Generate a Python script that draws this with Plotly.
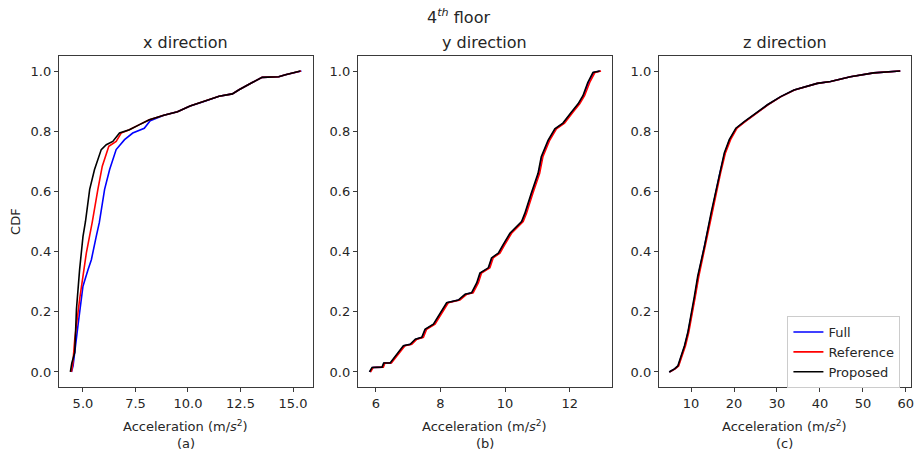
import plotly.graph_objects as go

# ---------------- data ----------------
# (a) x direction
a_prop_x = [4.40, 4.47, 4.61, 4.69, 4.84, 5.00, 5.12, 5.32, 5.55, 5.87, 6.11, 6.42, 6.74, 7.21, 7.69, 8.16, 8.85, 9.50, 10.10, 10.80, 11.48, 12.11, 12.43, 13.06, 13.53, 14.32, 14.64, 15.35]
a_prop_y = [0.0, 0.03, 0.065, 0.208, 0.34, 0.45, 0.50, 0.607, 0.673, 0.739, 0.755, 0.766, 0.794, 0.805, 0.822, 0.838, 0.853, 0.865, 0.884, 0.900, 0.916, 0.924, 0.938, 0.962, 0.979, 0.981, 0.988, 1.0]
a_ref_x = [4.45, 4.52, 4.61, 4.84, 5.16, 5.32, 5.44, 5.71, 5.92, 6.23, 6.58, 6.82, 7.21, 7.69, 8.16, 8.85, 9.50, 10.10, 10.80, 11.48, 12.11, 12.43, 13.06, 13.53, 14.32, 14.64, 15.38]
a_ref_y = [0.0, 0.03, 0.109, 0.241, 0.395, 0.45, 0.497, 0.607, 0.684, 0.750, 0.766, 0.794, 0.805, 0.822, 0.838, 0.853, 0.865, 0.884, 0.900, 0.916, 0.924, 0.938, 0.962, 0.979, 0.981, 0.988, 1.0]
a_full_x = [4.45, 4.53, 4.76, 5.00, 5.24, 5.40, 5.63, 5.78, 6.03, 6.27, 6.58, 6.98, 7.37, 7.92, 8.20, 8.85, 9.50, 10.10, 10.80, 11.48, 12.11, 12.43, 13.06, 13.53, 14.32, 14.64, 15.40]
a_full_y = [0.0, 0.02, 0.153, 0.285, 0.34, 0.373, 0.45, 0.497, 0.607, 0.673, 0.739, 0.772, 0.794, 0.81, 0.835, 0.853, 0.865, 0.884, 0.900, 0.916, 0.924, 0.938, 0.962, 0.979, 0.981, 0.988, 1.0]

# (b) y direction
b_y = [0.0, 0.015, 0.016, 0.03, 0.03, 0.052, 0.087, 0.092, 0.109, 0.115, 0.142, 0.159, 0.197, 0.23, 0.239, 0.258, 0.263, 0.296, 0.329, 0.346, 0.379, 0.395, 0.423, 0.439, 0.461, 0.50, 0.527, 0.594, 0.66, 0.715, 0.77, 0.808, 0.827, 0.863, 0.891, 0.918, 0.962, 0.995, 1.0]
b_prop_x = [5.80, 5.88, 6.19, 6.24, 6.44, 6.60, 6.85, 7.06, 7.22, 7.42, 7.52, 7.78, 7.99, 8.19, 8.55, 8.76, 8.96, 9.12, 9.22, 9.48, 9.58, 9.79, 9.94, 10.04, 10.15, 10.51, 10.61, 10.81, 11.02, 11.12, 11.33, 11.54, 11.79, 12.05, 12.26, 12.41, 12.56, 12.72, 12.93]
b_ref_x = [5.83, 5.92, 6.23, 6.28, 6.48, 6.65, 6.90, 7.11, 7.27, 7.47, 7.57, 7.83, 8.04, 8.24, 8.60, 8.81, 9.01, 9.17, 9.27, 9.53, 9.63, 9.84, 9.99, 10.09, 10.20, 10.56, 10.66, 10.86, 11.07, 11.17, 11.38, 11.59, 11.84, 12.10, 12.31, 12.46, 12.62, 12.78, 12.97]
b_full_x = [5.81, 5.90, 6.21, 6.26, 6.46, 6.62, 6.87, 7.08, 7.24, 7.44, 7.54, 7.80, 8.01, 8.21, 8.57, 8.78, 8.98, 9.14, 9.24, 9.50, 9.60, 9.81, 9.96, 10.06, 10.17, 10.53, 10.63, 10.83, 11.04, 11.14, 11.35, 11.56, 11.81, 12.07, 12.28, 12.43, 12.58, 12.74, 12.95]

# (c) z direction
c_y = [0.0, 0.01, 0.02, 0.054, 0.087, 0.131, 0.186, 0.252, 0.318, 0.417, 0.527, 0.66, 0.728, 0.772, 0.81, 0.832, 0.855, 0.888, 0.915, 0.937, 0.959, 0.965, 0.981, 0.994, 1.0]
c_prop_x = [4.9, 6.15, 6.92, 7.68, 8.47, 9.24, 10.0, 10.78, 11.55, 13.1, 14.64, 16.58, 17.74, 18.9, 20.43, 22.38, 24.7, 27.78, 30.86, 33.97, 39.37, 42.45, 47.09, 52.5, 58.68]
c_ref_x = [5.0, 6.3, 7.1, 7.9, 8.7, 9.45, 10.2, 11.0, 11.8, 13.35, 14.9, 16.85, 18.0, 19.2, 20.7, 22.6, 24.9, 27.9, 30.95, 34.05, 39.4, 42.5, 47.1, 52.5, 58.7]
c_full_x = [4.95, 6.2, 7.0, 7.8, 8.55, 9.3, 10.1, 10.9, 11.65, 13.2, 14.75, 16.7, 17.85, 19.0, 20.55, 22.5, 24.8, 27.85, 30.9, 34.0, 39.4, 42.5, 47.1, 52.5, 58.7]

series_names = ["Full", "Reference", "Proposed"]
series_colors = ["#0000ff", "#ff0000", "#000000"]
panel_titles = ["x direction", "y direction", "z direction"]
panel_letters = ["(a)", "(b)", "(c)"]

panels = [
    [(a_full_x, a_full_y), (a_ref_x, a_ref_y), (a_prop_x, a_prop_y)],
    [(b_full_x, b_y), (b_ref_x, b_y), (b_prop_x, b_y)],
    [(c_full_x, c_y), (c_ref_x, c_y), (c_prop_x, c_y)],
]

# ---------------- layout geometry ----------------
W, H = 919, 455
x_domains = [(59, 314), (359, 614), (661, 914)]
y_top, y_bot = 56, 387
x_ranges = [[3.85, 15.95], [5.44, 13.31], [2.5, 61.2]]
x_dticks = [2.5, 2, 10]
x_tick0 = [5, 6, 10]
x_fmt = [".1f", "d", "d"]

TXT = "#262626"
FONT = "DejaVu Sans"

fig = go.Figure()
for p, panel in enumerate(panels):
    suffix = "" if p == 0 else str(p + 1)
    for s, (xs, ys) in enumerate(panel):
        fig.add_trace(go.Scatter(
            x=xs, y=ys, mode="lines",
            line=dict(color=series_colors[s], width=1.6),
            name=series_names[s], legendgroup=series_names[s],
            showlegend=(p == 2),
            xaxis="x" + suffix, yaxis="y" + suffix,
        ))

axis_common = dict(
    showline=True, mirror=True, linecolor="#3a3a3a", linewidth=1,
    ticks="outside", ticklen=4, tickwidth=1, tickcolor="#3a3a3a",
    showgrid=False, zeroline=False,
    tickfont=dict(family=FONT, size=13, color=TXT),
)

layout = dict(
    width=W, height=H, margin=dict(l=0, r=0, t=0, b=0),
    paper_bgcolor="white", plot_bgcolor="white",
    font=dict(family=FONT, color=TXT),
    showlegend=True,
    legend=dict(
        x=790 / W, y=1 - 316 / H, xanchor="left", yanchor="top",
        bgcolor="rgba(255,255,255,0.8)", bordercolor="#cccccc", borderwidth=1,
        font=dict(family=FONT, size=13, color=TXT),
        tracegroupgap=0, itemwidth=30,
    ),
)

annotations = []
for p in range(3):
    suffix = "" if p == 0 else str(p + 1)
    x0, x1 = x_domains[p]
    layout["xaxis" + suffix] = dict(
        axis_common,
        domain=[x0 / W, x1 / W], anchor="y" + suffix,
        range=x_ranges[p], tick0=x_tick0[p], dtick=x_dticks[p],
        tickformat=x_fmt[p],
    )
    layout["yaxis" + suffix] = dict(
        axis_common,
        domain=[1 - y_bot / H, 1 - y_top / H], anchor="x" + suffix,
        range=[-0.05, 1.05], tick0=0, dtick=0.2, tickformat=".1f",
    )
    cx = (x0 + x1) / 2 / W
    annotations.append(dict(
        text=panel_titles[p], x=cx, y=1 - 42 / H, xref="paper", yref="paper",
        showarrow=False, xanchor="center", yanchor="middle",
        font=dict(family=FONT, size=16, color=TXT)))
    annotations.append(dict(
        text="Acceleration (m/<i>s</i><sup>2</sup>)", x=cx, y=1 - 426 / H,
        xref="paper", yref="paper", showarrow=False,
        xanchor="center", yanchor="middle",
        font=dict(family=FONT, size=13, color=TXT)))
    annotations.append(dict(
        text=panel_letters[p], x=cx, y=1 - 443 / H,
        xref="paper", yref="paper", showarrow=False,
        xanchor="center", yanchor="middle",
        font=dict(family=FONT, size=13, color=TXT)))

annotations.append(dict(
    text="4<sup><i>th</i></sup> floor", x=460 / W, y=1 - 17 / H,
    xref="paper", yref="paper", showarrow=False,
    xanchor="center", yanchor="middle",
    font=dict(family=FONT, size=16, color=TXT)))
annotations.append(dict(
    text="CDF", x=15 / W, y=1 - 221 / H, xref="paper", yref="paper",
    showarrow=False, textangle=-90, xanchor="center", yanchor="middle",
    font=dict(family=FONT, size=13, color=TXT)))

layout["annotations"] = annotations
fig.update_layout(**layout)
fig.write_html("out.html")
